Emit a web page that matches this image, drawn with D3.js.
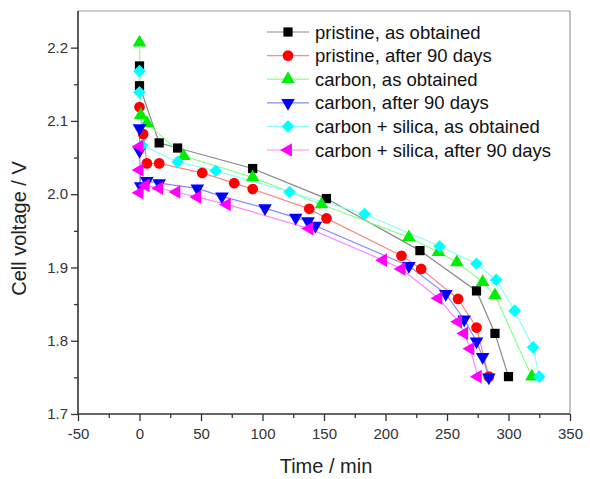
<!DOCTYPE html>
<html>
<head>
<meta charset="utf-8">
<script src="https://cdnjs.cloudflare.com/ajax/libs/d3/7.8.5/d3.min.js"></script>
<style>
  body { margin: 0; background: #fff; }
  svg { font-family: "Liberation Sans", Arial, sans-serif; }
</style>
</head>
<body>
<svg id="chart" width="590" height="479"></svg>
<script>
// series names (legend order)
var seriesNames = [
    "pristine, as obtained",
    "pristine, after 90 days",
    "carbon, as obtained",
    "carbon, after 90 days",
    "carbon + silica, as obtained",
    "carbon + silica, after 90 days"
];

// [time min, voltage V]
var pristineAsObtained = [[0,2.175],[0,2.148],[16,2.070],[31,2.063],[92,2.035],[152,1.994],[228,1.923],[274,1.868],[289,1.810],[300,1.751]];
var pristineAfter90 = [[0,2.119],[3,2.082],[6,2.042],[16,2.042],[51,2.029],[77,2.015],[92,2.007],[138,1.980],[152,1.967],[213,1.916],[229,1.898],[259,1.857],[274,1.818],[284,1.751]];
var carbonAsObtained = [[0,2.207],[1,2.108],[6,2.097],[36,2.052],[92,2.023],[148,1.986],[219,1.941],[243,1.921],[258,1.907],[279,1.880],[289,1.862],[319,1.751]];
var carbonAfter90 = [[0,2.090],[0,2.059],[1,2.011],[6,2.018],[16,2.015],[47,2.008],[67,1.997],[102,1.981],[127,1.968],[137,1.963],[143,1.957],[219,1.902],[249,1.864],[264,1.829],[274,1.799],[279,1.778],[284,1.750]];
var silicaAsObtained = [[0,2.168],[0,2.139],[2,2.067],[31,2.044],[62,2.032],[122,2.003],[183,1.973],[244,1.929],[274,1.905],[290,1.883],[305,1.841],[320,1.791],[325,1.751]];
var silicaAfter90 = [[0,2.065],[0,2.033],[0,2.002],[5,2.012],[16,2.008],[30,2.003],[47,1.996],[71,1.986],[138,1.953],[198,1.910],[213,1.898],[243,1.858],[259,1.826],[264,1.810],[269,1.789],[275,1.751]];

var allSeries = [pristineAsObtained, pristineAfter90, carbonAsObtained, carbonAfter90, silicaAsObtained, silicaAfter90];

var xTicks = [-50, 0, 50, 100, 150, 200, 250, 300, 350];
var yTicks = [1.7, 1.8, 1.9, 2.0, 2.1, 2.2];

var markerColors = ["#000000", "#ff0000", "#00ee00", "#0000ff", "#00ffff", "#ff00ff"];
var lineColors = ["#888888", "#ff8888", "#88ff88", "#8888ff", "#88ffff", "#ff88ff"];

// marker shape per series: symbol type, rotation, size
var markers = [
    {type: d3.symbolSquare, rot: 0, size: 85},
    {type: d3.symbolCircle, rot: 0, size: 90},
    {type: d3.symbolTriangle, rot: 0, size: 80},
    {type: d3.symbolTriangle, rot: 180, size: 80},
    {type: d3.symbolSquare, rot: 45, size: 80},
    {type: d3.symbolTriangle, rot: -90, size: 80}
];

var svg = d3.select("#chart"),
    plotLeft = 78, plotRight = 570, plotTop = 11, plotBottom = 414;

var x = d3.scaleLinear().domain([-50, 350]).range([plotLeft, plotRight]);
var y = d3.scaleLinear().domain([1.7, 2.25]).range([plotBottom, plotTop]);

// frame: top and right in grey
svg.append("line").attr("x1", plotLeft).attr("x2", plotRight).attr("y1", plotTop).attr("y2", plotTop)
    .attr("stroke", "#9a9a9a").attr("stroke-width", 1.2);
svg.append("line").attr("x1", plotRight).attr("x2", plotRight).attr("y1", plotTop).attr("y2", plotBottom)
    .attr("stroke", "#9a9a9a").attr("stroke-width", 1.2);

// minor ticks
var xMinor = [-25, 25, 75, 125, 175, 225, 275, 325];
var yMinor = [1.75, 1.85, 1.95, 2.05, 2.15];

var xAxis = svg.append("g")
    .attr("transform", "translate(0," + plotBottom + ")")
    .call(d3.axisBottom(x).tickValues(xTicks).tickFormat(function (d) { return String(d); }).tickSize(7).tickPadding(7));
svg.append("g")
    .attr("transform", "translate(0," + plotBottom + ")")
    .call(d3.axisBottom(x).tickValues(xMinor).tickFormat("").tickSize(4))
    .select(".domain").remove();

var yAxis = svg.append("g")
    .attr("transform", "translate(" + plotLeft + ",0)")
    .call(d3.axisLeft(y).tickValues(yTicks).tickFormat(d3.format(".1f")).tickSize(7).tickPadding(3));
svg.append("g")
    .attr("transform", "translate(" + plotLeft + ",0)")
    .call(d3.axisLeft(y).tickValues(yMinor).tickFormat("").tickSize(4))
    .select(".domain").remove();

// axis lines span the full frame
yAxis.select(".domain").attr("d", "M0," + plotBottom + "V" + plotTop);
xAxis.select(".domain").attr("d", "M" + plotLeft + ",0H" + plotRight);

svg.selectAll(".domain").attr("stroke", "#333").attr("stroke-width", 1.6);
svg.selectAll(".tick line").attr("stroke", "#333").attr("stroke-width", 1.3);
svg.selectAll(".tick text").attr("fill", "#333").style("font-size", "15px");

// axis titles
svg.append("text")
    .attr("x", (plotLeft + plotRight) / 2 + 2).attr("y", 473)
    .attr("text-anchor", "middle")
    .attr("fill", "#222")
    .style("font-size", "20px")
    .text("Time / min");
svg.append("text")
    .attr("transform", "translate(26," + ((plotTop + plotBottom) / 2 + 16) + ") rotate(-90)")
    .attr("text-anchor", "middle")
    .attr("fill", "#222")
    .style("font-size", "20px")
    .text("Cell voltage / V");

var line = d3.line()
    .x(function (d) { return x(d[0]); })
    .y(function (d) { return y(d[1]); });

// lines first, then markers on top
for (var i = 0; i < allSeries.length; i++) {
    svg.append("path")
        .datum(allSeries[i])
        .attr("fill", "none")
        .attr("stroke", lineColors[i])
        .attr("stroke-width", 1.2)
        .attr("d", line);
}

allSeries.forEach(function (series, i) {
    var m = markers[i];
    svg.append("g").selectAll("path")
        .data(series)
        .enter().append("path")
        .attr("d", d3.symbol().type(m.type).size(m.size))
        .attr("transform", function (d) {
            return "translate(" + x(d[0]) + "," + y(d[1]) + ") rotate(" + m.rot + ")";
        })
        .attr("fill", markerColors[i]);
});

// legend
var legend = svg.append("g").attr("transform", "translate(267,32)");
for (var i = 0; i < seriesNames.length; i++) {
    var row = legend.append("g").attr("transform", "translate(0," + (i * 23.6) + ")");
    row.append("line")
        .attr("x1", 0).attr("x2", 42).attr("y1", 0).attr("y2", 0)
        .attr("stroke", lineColors[i]).attr("stroke-width", 1.2);
    row.append("path")
        .attr("d", d3.symbol().type(markers[i].type).size(markers[i].size))
        .attr("transform", "translate(21,0) rotate(" + markers[i].rot + ")")
        .attr("fill", markerColors[i]);
    row.append("text")
        .attr("x", 48).attr("y", 6.5)
        .attr("fill", "#111")
        .style("font-size", "18.5px")
        .text(seriesNames[i]);
}
</script>
</body>
</html>
